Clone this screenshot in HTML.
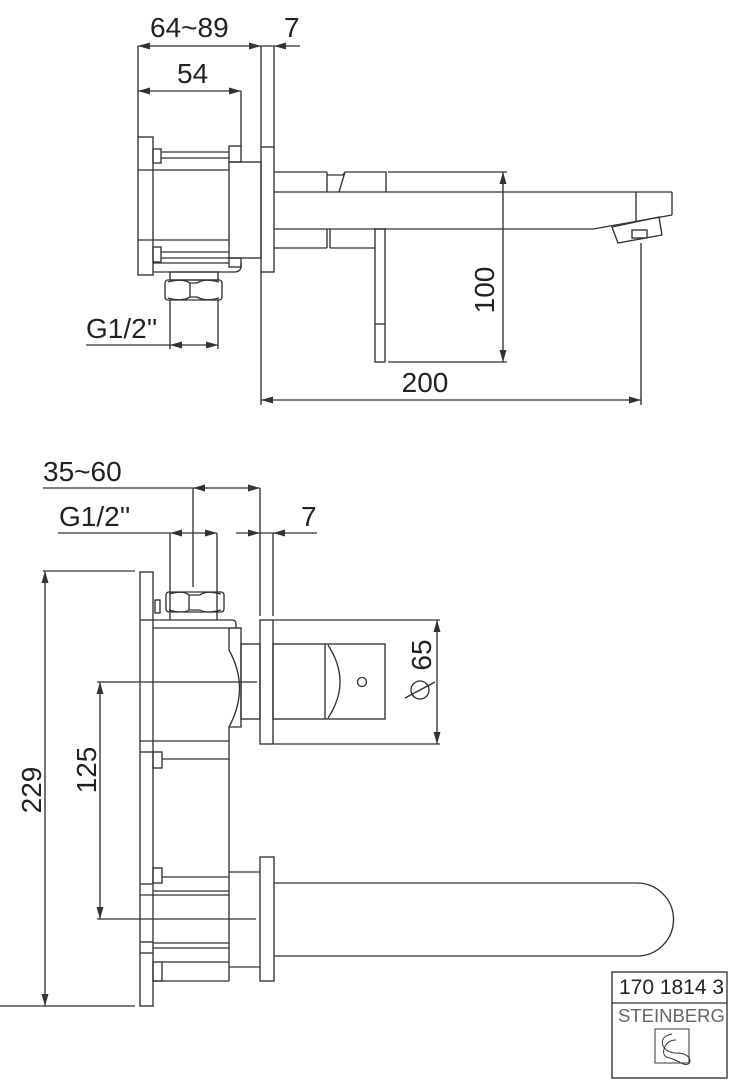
<!DOCTYPE html>
<html><head><meta charset="utf-8"><style>
html,body{margin:0;padding:0;background:#fff;}
svg{display:block;}
text{font-family:"Liberation Sans",sans-serif;fill:#222;}
</style></head><body>
<svg width="742" height="1080" viewBox="0 0 742 1080" xmlns="http://www.w3.org/2000/svg">
<g fill="none" stroke="#333" stroke-width="1.35">
<!-- TOP VIEW dimension lines -->
<line x1="138" y1="46" x2="300" y2="46"/>
<line x1="138" y1="91" x2="241" y2="91"/>
<line x1="138" y1="46" x2="138" y2="137"/>
<line x1="241" y1="91" x2="241" y2="146"/>
<line x1="261" y1="46" x2="261" y2="147"/>
<line x1="274" y1="46" x2="274" y2="147"/>
<line x1="86" y1="345" x2="218" y2="345"/>
<line x1="170" y1="300" x2="170" y2="349"/>
<line x1="218" y1="300" x2="218" y2="349"/>
<line x1="503" y1="172" x2="503" y2="362"/>
<line x1="388" y1="172" x2="507" y2="172"/>
<line x1="388" y1="362" x2="507" y2="362"/>
<line x1="261" y1="400" x2="641" y2="400"/>
<line x1="261" y1="272" x2="261" y2="405"/>
<line x1="641" y1="243" x2="641" y2="405"/>
<!-- TOP VIEW body -->
<rect x="138" y="137" width="15" height="138"/>
<line x1="138" y1="170" x2="229" y2="170"/>
<line x1="138" y1="240" x2="229" y2="240"/>
<line x1="161" y1="152" x2="229" y2="152"/>
<line x1="161" y1="158" x2="229" y2="158"/>
<line x1="161" y1="252" x2="229" y2="252"/>
<line x1="161" y1="258" x2="229" y2="258"/>
<rect x="153" y="149" width="8" height="14"/>
<rect x="153" y="247" width="8" height="15"/>
<rect x="229" y="146" width="12" height="16"/>
<rect x="229" y="258" width="12" height="9"/>
<rect x="229" y="162" width="32" height="96"/>
<line x1="153" y1="263" x2="229" y2="263"/>
<path d="M153 272 H234 Q241 272 241 266 V263"/>
<rect x="261" y="147" width="13" height="125"/>
<rect x="170" y="272" width="48" height="8"/>
<rect x="165" y="280" width="57" height="20" rx="3"/>
<path d="M168 282 Q182 278 190 283 L190 297 Q182 302 168 298 M197 283 Q205 278 219 282 M197 297 Q205 302 219 298 M190 283 H197 M190 297 H197"/>
<!-- spout top -->
<line x1="274" y1="172" x2="327" y2="172"/>
<line x1="274" y1="248" x2="327" y2="248"/>
<line x1="327" y1="172" x2="327" y2="192"/>
<line x1="327" y1="229" x2="327" y2="248"/>
<line x1="330" y1="229" x2="330" y2="248"/>
<line x1="330" y1="248" x2="375" y2="248"/>
<path d="M327 175 H343 L345 172 H386 V192 M345 172 L339 192"/>
<line x1="274" y1="192" x2="672" y2="192"/>
<line x1="672" y1="192" x2="672" y2="215"/>
<line x1="636" y1="192" x2="636" y2="221"/>
<path d="M274 229 H593 L672 215"/>
<polygon points="612,227 659,217 662,235 618,243"/>
<rect x="632" y="230" width="15" height="8"/>
<rect x="375" y="229" width="10" height="133"/>
<line x1="375" y1="324" x2="385" y2="324"/>

<!-- BOTTOM VIEW dimension lines -->
<line x1="43" y1="488" x2="260" y2="488"/>
<line x1="193" y1="488" x2="193" y2="587"/>
<line x1="260" y1="488" x2="260" y2="616"/>
<line x1="58" y1="533" x2="217" y2="533"/>
<line x1="236" y1="533" x2="317" y2="533"/>
<line x1="170" y1="533" x2="170" y2="612"/>
<line x1="217" y1="533" x2="217" y2="612"/>
<line x1="273" y1="533" x2="273" y2="616"/>
<line x1="43" y1="571" x2="135" y2="571"/>
<line x1="45" y1="571" x2="45" y2="1006"/>
<line x1="0" y1="1006" x2="135" y2="1006"/>
<line x1="97" y1="682" x2="257" y2="682"/>
<line x1="100" y1="682" x2="100" y2="919"/>
<line x1="97" y1="919" x2="256" y2="919"/>
<line x1="273" y1="620" x2="440" y2="620"/>
<line x1="273" y1="744" x2="440" y2="744"/>
<line x1="437" y1="620" x2="437" y2="744"/>
<!-- BOTTOM VIEW body -->
<rect x="140" y="572" width="13" height="434"/>
<line x1="140" y1="620" x2="153" y2="620"/>
<line x1="140" y1="741" x2="229" y2="741"/>
<line x1="140" y1="752" x2="153" y2="752"/>
<line x1="140" y1="884" x2="153" y2="884"/>
<line x1="140" y1="895" x2="229" y2="895"/>
<line x1="140" y1="942" x2="153" y2="942"/>
<line x1="140" y1="953" x2="153" y2="953"/>
<rect x="155" y="600" width="5" height="13"/>
<rect x="153" y="752" width="9" height="16"/>
<line x1="162" y1="759" x2="229" y2="759"/>
<rect x="153" y="868" width="9" height="15"/>
<line x1="162" y1="877" x2="229" y2="877"/>
<line x1="153" y1="891" x2="229" y2="891"/>
<line x1="153" y1="943" x2="229" y2="943"/>
<line x1="153" y1="948" x2="229" y2="948"/>
<rect x="153" y="962" width="9" height="19"/>
<line x1="162" y1="962" x2="229" y2="962"/>
<line x1="153" y1="981" x2="229" y2="981"/>
<rect x="166" y="592" width="58" height="20" rx="3"/>
<path d="M169 594 Q183 590 189 595 L189 610 Q183 614 169 610 M200 595 Q206 590 221 594 M200 610 Q206 614 221 610 M189 595 H200 M189 610 H200"/>
<line x1="170" y1="612" x2="170" y2="620"/>
<line x1="217" y1="612" x2="217" y2="620"/>
<path d="M153 620 H232 Q236 620 236 624 V628"/>
<line x1="153" y1="628" x2="241" y2="628"/>
<path d="M229 628 V650 Q250 688 229 727 V981"/>
<path d="M229 628 H241 V727 H229"/>
<rect x="241" y="644" width="19" height="75"/>
<rect x="260" y="620" width="13" height="124"/>
<rect x="273" y="644" width="112" height="75"/>
<line x1="325" y1="644" x2="325" y2="719"/>
<path d="M328 645 Q352 682 328 718"/>
<circle cx="362" cy="682" r="4.5"/>
<line x1="229" y1="872" x2="260" y2="872"/>
<line x1="229" y1="967" x2="260" y2="967"/>
<rect x="260" y="857" width="14" height="124"/>
<path d="M274 883 H637 A36.5 36.5 0 0 1 637 956 H274"/>
<!-- Ø symbol -->
<circle cx="420" cy="690" r="9"/>
<line x1="405" y1="698" x2="435" y2="682"/>
<!-- title block -->
<rect x="612" y="972" width="115" height="106"/>
<line x1="612" y1="1003" x2="727" y2="1003"/>
<rect x="655" y="1029" width="34" height="34" stroke-width="1"/>
<path d="M672 1034 Q660 1036 663 1046 Q668 1054 679 1053 Q688 1054 690 1060 Q690 1066 683 1064 Q676 1060 670 1058 Q662 1057 664 1049 Q667 1040 676 1040" stroke-width="1"/>
</g>
<g fill="#333" stroke="none">
<polygon points="138,46 150,42.5 150,49.5"/>
<polygon points="261,46 249,42.5 249,49.5"/>
<polygon points="274,46 286,42.5 286,49.5"/>
<polygon points="138,91 150,87.5 150,94.5"/>
<polygon points="241,91 229,87.5 229,94.5"/>
<polygon points="170,345 182,341.5 182,348.5"/>
<polygon points="218,345 206,341.5 206,348.5"/>
<polygon points="503,172 499.5,184 506.5,184"/>
<polygon points="503,362 499.5,350 506.5,350"/>
<polygon points="261,400 273,396.5 273,403.5"/>
<polygon points="641,400 629,396.5 629,403.5"/>
<polygon points="193,488 205,484.5 205,491.5"/>
<polygon points="260,488 248,484.5 248,491.5"/>
<polygon points="170,533 182,529.5 182,536.5"/>
<polygon points="217,533 205,529.5 205,536.5"/>
<polygon points="260,533 248,529.5 248,536.5"/>
<polygon points="273,533 285,529.5 285,536.5"/>
<polygon points="437,620 433.5,632 440.5,632"/>
<polygon points="437,744 433.5,732 440.5,732"/>
<polygon points="45,571 41.5,583 48.5,583"/>
<polygon points="45,1006 41.5,994 48.5,994"/>
<polygon points="100,682 96.5,694 103.5,694"/>
<polygon points="100,919 96.5,907 103.5,907"/>
</g>
<g font-size="28">
<text x="150" y="37">64~89</text>
<text x="284" y="37">7</text>
<text x="177" y="83">54</text>
<text x="86" y="338">G1/2''</text>
<text x="425" y="392" text-anchor="middle">200</text>
<text transform="translate(494,290) rotate(-90)" text-anchor="middle">100</text>
<text x="43" y="481">35~60</text>
<text x="59" y="526">G1/2''</text>
<text x="301" y="526">7</text>
<text transform="translate(431,655) rotate(-90)" text-anchor="middle">65</text>
<text transform="translate(41,790) rotate(-90)" text-anchor="middle">229</text>
<text transform="translate(96,770) rotate(-90)" text-anchor="middle">125</text>
</g>
<text x="619" y="994" font-size="21">170 1814 3</text>
<text x="618" y="1022" font-size="18.5" style="fill:#666">STEINBERG</text>
</svg>
</body></html>
